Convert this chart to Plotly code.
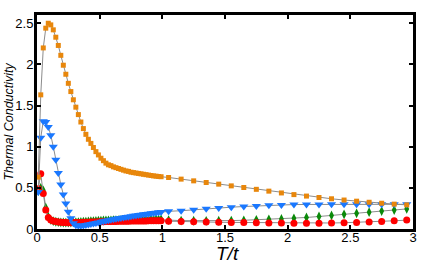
import plotly.graph_objects as go

# temperature grid: dense part 0.01..0.99 step 0.02, sparse part 1.05..2.95 step 0.1
T_dense = [round(0.01 + 0.02 * i, 2) for i in range(50)]
T_sparse = [round(1.05 + 0.1 * i, 2) for i in range(20)]
T = T_dense + T_sparse

orange_dense = [0.63, 1.63, 2.20, 2.44, 2.50, 2.48, 2.42, 2.33, 2.23, 2.11,
                1.99, 1.88, 1.77, 1.67, 1.57, 1.48, 1.39, 1.30, 1.22, 1.15,
                1.09, 1.04, 0.99, 0.94, 0.90, 0.86, 0.83, 0.80, 0.78, 0.77,
                0.755, 0.745, 0.735, 0.725, 0.715, 0.705, 0.70, 0.69, 0.685, 0.68,
                0.675, 0.67, 0.665, 0.66, 0.655, 0.65, 0.645, 0.642, 0.638, 0.635]
orange_sparse = [0.626, 0.606, 0.585, 0.565, 0.545, 0.524, 0.504, 0.482, 0.46, 0.438,
                 0.418, 0.40, 0.383, 0.367, 0.352, 0.338, 0.325, 0.313, 0.302, 0.293]

blue_dense = [0.45, 1.11, 1.31, 1.30, 1.24, 1.14, 1.00, 0.84, 0.68, 0.54,
              0.42, 0.31, 0.21, 0.13, 0.07, 0.045, 0.038, 0.04, 0.044, 0.049,
              0.054, 0.06, 0.067, 0.074, 0.08, 0.087, 0.093, 0.1, 0.106, 0.112,
              0.118, 0.124, 0.13, 0.135, 0.14, 0.145, 0.15, 0.155, 0.16, 0.165,
              0.17, 0.174, 0.178, 0.182, 0.186, 0.19, 0.194, 0.198, 0.202, 0.206]
blue_sparse = [0.215, 0.222, 0.235, 0.246, 0.255, 0.265, 0.273, 0.28, 0.288, 0.293,
               0.297, 0.298, 0.299, 0.3, 0.3, 0.3, 0.3, 0.3, 0.3, 0.3]

green_dense = [0.46, 0.50, 0.47, 0.26, 0.15, 0.11, 0.095, 0.088, 0.083, 0.08,
               0.079, 0.078, 0.078, 0.079, 0.08, 0.082, 0.084, 0.086, 0.088, 0.09,
               0.092, 0.094, 0.096, 0.098, 0.1, 0.101, 0.103, 0.104, 0.105, 0.106,
               0.107, 0.108, 0.109, 0.11, 0.111, 0.111, 0.112, 0.112, 0.113, 0.113,
               0.114, 0.114, 0.115, 0.115, 0.115, 0.116, 0.116, 0.116, 0.117, 0.117]
green_sparse = [0.108, 0.102, 0.1, 0.099, 0.1, 0.102, 0.106, 0.111, 0.117, 0.123,
                0.13, 0.14, 0.152, 0.165, 0.178, 0.191, 0.205, 0.218, 0.231, 0.244]

red_dense = [0.49, 0.67, 0.43, 0.23, 0.14, 0.11, 0.097, 0.09, 0.085, 0.081,
             0.079, 0.078, 0.077, 0.077, 0.078, 0.078, 0.079, 0.08, 0.081, 0.082,
             0.083, 0.084, 0.085, 0.086, 0.087, 0.088, 0.089, 0.09, 0.09, 0.091,
             0.092, 0.092, 0.093, 0.094, 0.094, 0.095, 0.095, 0.096, 0.096, 0.097,
             0.097, 0.098, 0.098, 0.098, 0.099, 0.099, 0.099, 0.1, 0.1, 0.1]
red_sparse = [0.095, 0.09, 0.087, 0.084, 0.082, 0.08, 0.078, 0.076, 0.074, 0.072,
              0.07, 0.07, 0.071, 0.073, 0.076, 0.08, 0.085, 0.092, 0.1, 0.108]

x_ticks = [0, 0.5, 1, 1.5, 2, 2.5, 3]
x_tick_labels = ["0", "0.5", "1", "1.5", "2", "2.5", "3"]
y_ticks = [0, 0.5, 1, 1.5, 2, 2.5]
y_tick_labels = ["0", "0.5", "1", "1.5", "2", "2.5"]

series = [
    ("green", green_dense + green_sparse, "#0a8a0a", "diamond-tall", 7),
    ("red", red_dense + red_sparse, "#ff0000", "circle", 7),
    ("blue", blue_dense + blue_sparse, "#1a78ff", "triangle-down", 8),
    ("orange", orange_dense + orange_sparse, "#e8870c", "square", 5),
]

fig = go.Figure()
for name, ys, col, sym, sz in series:
    fig.add_trace(go.Scatter(
        x=T, y=ys, mode="lines+markers", name=name,
        line=dict(color="#8c8c8c", width=1),
        marker=dict(symbol=sym, size=sz, color=col, line=dict(width=0)),
        cliponaxis=False, showlegend=False, hoverinfo="skip",
    ))

font = "Liberation Sans, Arial, sans-serif"
axis_common = dict(showgrid=False, zeroline=False, showline=True, linecolor="black",
                   linewidth=3, mirror="allticks", ticks="inside", ticklen=4,
                   tickwidth=2, tickcolor="black", tickfont=dict(size=13))
fig.update_layout(
    width=436, height=264,
    margin=dict(l=37, r=23, t=15, b=35),
    paper_bgcolor="white", plot_bgcolor="white",
    font=dict(family=font, size=13, color="black"),
    xaxis=dict(range=[0, 3], tickvals=x_ticks, ticktext=x_tick_labels,
               ticklabelstandoff=-6, **axis_common),
    yaxis=dict(range=[0, 2.6], tickvals=y_ticks, ticktext=y_tick_labels,
               ticklabelstandoff=-2, **axis_common),
    annotations=[
        dict(text="<i>T/t</i>", xref="paper", yref="paper", x=0.507, y=-0.115,
             xanchor="center", yanchor="middle", showarrow=False,
             font=dict(size=19, family=font)),
        dict(text="<i>Thermal Conductivity</i>", xref="paper", yref="paper",
             x=-0.0755, y=0.5, xanchor="center", yanchor="middle", textangle=-90,
             showarrow=False, font=dict(size=12.5, family=font)),
    ],
)

fig.write_html("out.html", config={"displayModeBar": False},
               post_script="document.body.style.margin='0';")
